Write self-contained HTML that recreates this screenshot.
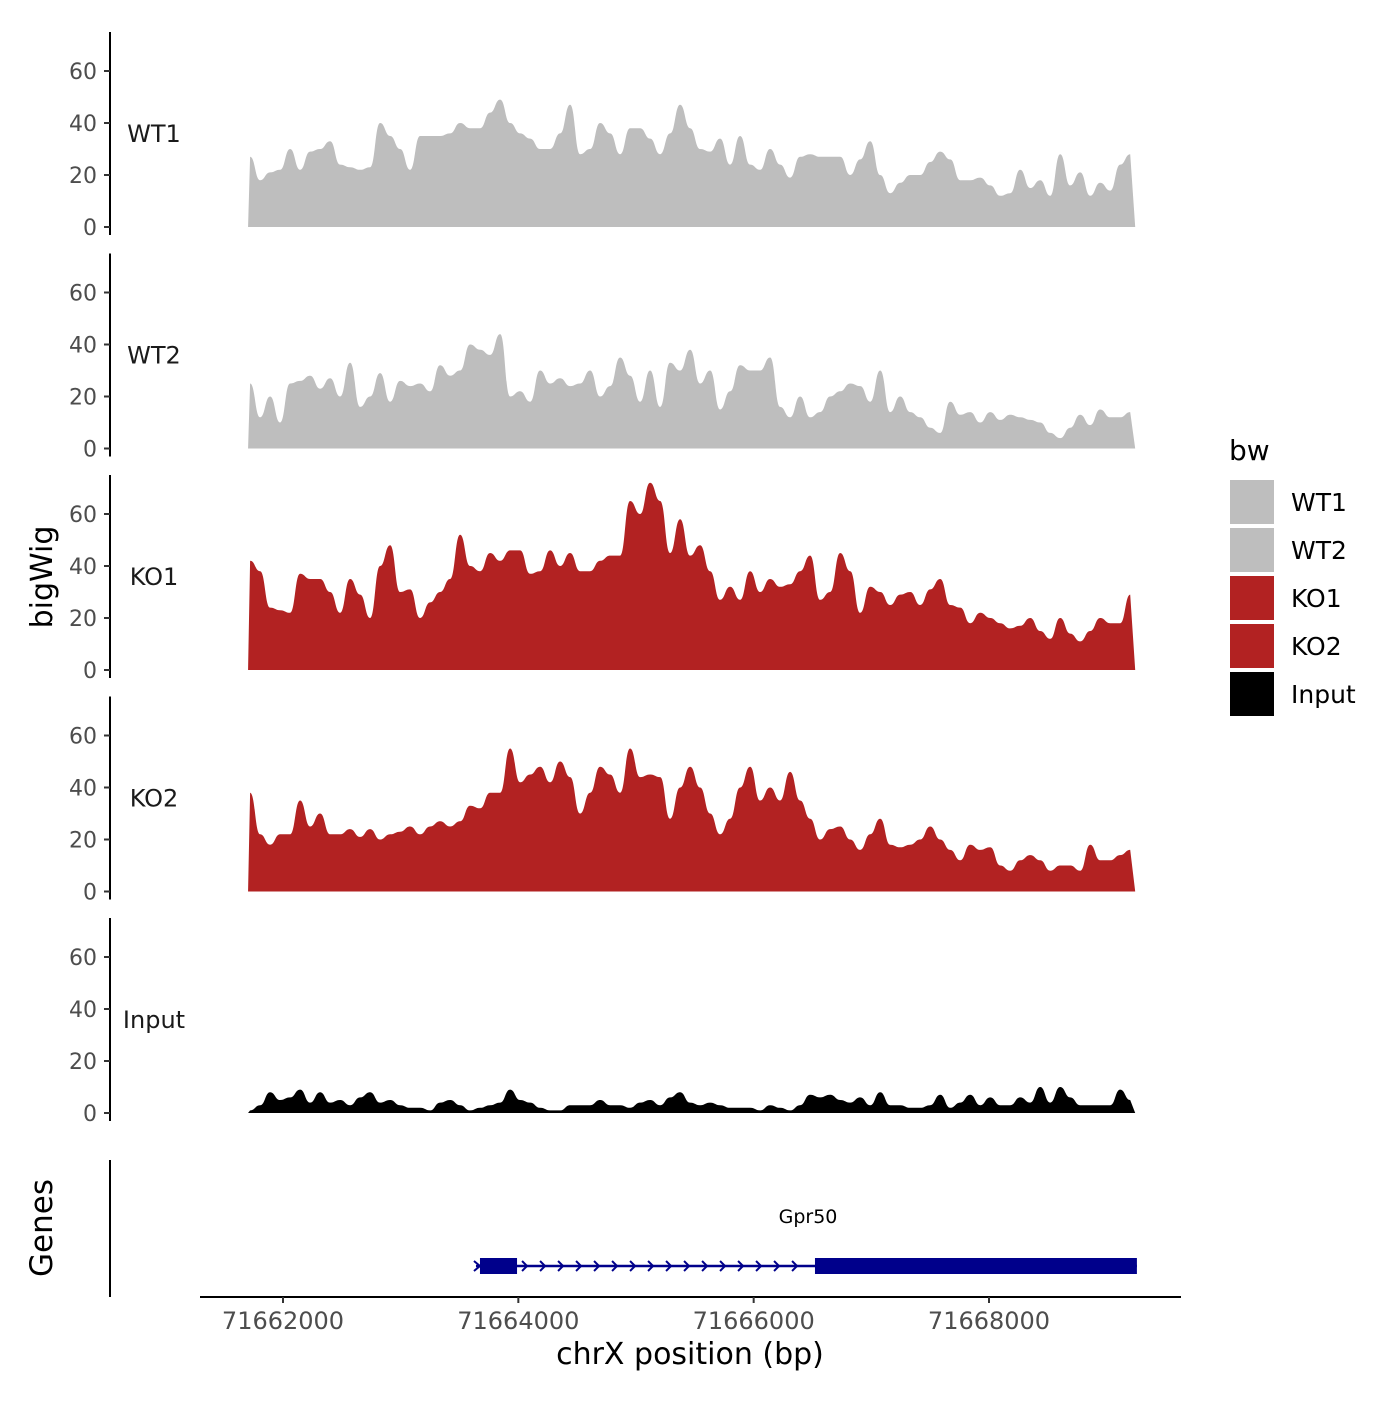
<!DOCTYPE html>
<html><head><meta charset="utf-8"><style>
body{margin:0;background:#fff}
svg text{font-family:"DejaVu Sans","Liberation Sans",sans-serif}
</style></head><body>
<svg id="chart" width="1400" height="1400" viewBox="0 0 1400 1400" xmlns="http://www.w3.org/2000/svg">
<rect width="1400" height="1400" fill="#fff"/>
<g id="tracks"></g>
<g id="genes"></g>
<g id="xaxis"></g>
<g id="legend"></g>
</svg>
<script>
const trackNames=["WT1","WT2","KO1","KO2","Input"];
const trackColors=["#bebebe","#bebebe","#b22222","#b22222","#000000"];
const binStartBp=71661720;
const binSizeBp=85;
const wt1=[27,18,21,22,30,22,29,30,33,24,23,22,23,40,35,30,22,35,35,35,36,40,38,38,44,49,40,36,34,30,30,36,47,28,30,40,36,28,38,38,34,28,36,47,38,30,29,34,24,35,24,22,30,24,19,27,28,27,27,27,20,26,33,20,13,17,20,20,25,29,26,18,18,19,16,12,13,22,15,18,12,28,16,21,12,17,14,24,28];
const wt2=[25,12,20,10,25,26,28,23,27,20,33,16,20,29,18,26,24,25,22,32,28,30,40,38,36,44,20,22,18,30,25,27,24,25,30,20,24,35,28,18,30,16,33,30,38,25,30,15,22,32,30,30,35,16,12,20,12,14,20,22,25,24,18,30,14,20,14,12,8,6,18,13,14,10,14,11,13,12,11,10,6,4,8,13,9,15,12,12,14];
const ko1=[42,38,24,23,22,37,35,35,30,22,35,29,20,40,48,30,31,20,26,30,35,52,40,38,45,42,46,46,37,38,46,40,45,38,38,42,44,44,65,60,72,65,45,58,44,48,38,27,32,27,38,30,35,32,33,38,44,27,30,45,38,22,32,30,25,29,30,25,31,35,25,24,18,22,20,18,16,17,20,15,12,20,14,11,15,20,18,18,29];
const ko2=[38,22,18,22,22,35,25,30,22,22,24,21,24,20,22,23,25,22,25,27,25,27,33,32,38,38,55,42,45,48,42,50,44,30,38,48,45,38,55,44,45,44,28,40,48,40,30,22,28,40,48,35,40,35,46,35,28,20,24,25,20,16,22,28,18,17,18,20,25,20,16,12,18,16,17,10,8,12,14,12,8,10,10,8,18,12,12,14,16];
const input=[1,3,8,5,6,9,4,8,4,5,3,6,8,4,5,3,2,2,1,4,5,3,1,2,3,4,9,5,4,2,1,1,3,3,3,5,3,3,2,4,5,3,6,8,4,3,4,3,2,2,2,1,3,2,1,3,7,6,7,5,4,6,3,8,3,3,2,2,3,7,2,4,7,3,6,3,3,6,4,10,4,10,6,3,3,3,3,9,5];
const trackValues=[wt1,wt2,ko1,ko2,input];
const yTicks=[0,20,40,60];
const xTicks=[71662000,71664000,71666000,71668000];
const geneName="Gpr50";
const geneStart=71663640, geneEnd=71669257;
const exonStarts=[71663674,71666521];
const exonEnds=[71663989,71669257];

const NS="http://www.w3.org/2000/svg";
function mk(tag,attrs,parent){const e=document.createElementNS(NS,tag);for(const k in attrs)e.setAttribute(k,attrs[k]);parent.appendChild(e);return e;}
const xScale=bp=>283+(bp-71662000)*(706/6000);
const panelZero=i=>227+i*221.5;
const yScale=(i,v)=>panelZero(i)-v*2.6;

const tracksG=document.getElementById('tracks');
trackNames.forEach((name,i)=>{
  const g=mk('g',{},tracksG);
  
  
  const z=panelZero(i);
  const ax=mk('line',{x1:110,x2:110,y1:z-195,y2:z+8,stroke:'#000','stroke-width':2},g);
  
  
  yTicks.forEach(t=>{
    const y=yScale(i,t);
    const tk=mk('line',{x1:104,x2:110,y1:y,y2:y,stroke:'#333','stroke-width':2},g);
    
    
    const tl=mk('text',{x:97,y:y+8,'text-anchor':'end','font-size':22,fill:'#4d4d4d'},g);
    tl.textContent=t;
    
    
  });
  const lab=mk('text',{x:154,y:z-85,'text-anchor':'middle','font-size':24,fill:'#1a1a1a'},g);
  lab.textContent=name;
  
  
  const vals=trackValues[i];
  const xs=vals.map((v,k)=>xScale(binStartBp+k*binSizeBp));
  const ys=vals.map(v=>yScale(i,v));
  let d='M'+(xs[0]-2)+','+z+' L'+xs[0].toFixed(1)+','+ys[0].toFixed(1);
  for(let k=0;k<xs.length-1;k++){
    const mx=(xs[k]+xs[k+1])/2;
    d+=` C${mx.toFixed(1)},${ys[k].toFixed(1)} ${mx.toFixed(1)},${ys[k+1].toFixed(1)} ${xs[k+1].toFixed(1)},${ys[k+1].toFixed(1)}`;
  }
  d+=' L'+(xs[xs.length-1]+5).toFixed(1)+','+z+' Z';
  const p=mk('path',{d:d,fill:trackColors[i]},g);
  
  
});
const yt=mk('text',{x:52,y:577,'text-anchor':'middle','font-size':30,fill:'#000',transform:'rotate(-90 52 577)'},tracksG);
yt.textContent='bigWig';



const gg=document.getElementById('genes');
const gax=mk('line',{x1:110,x2:110,y1:1160,y2:1297,stroke:'#000','stroke-width':2},gg);


const gt=mk('text',{x:52,y:1228,'text-anchor':'middle','font-size':31,fill:'#000',transform:'rotate(-90 52 1228)'},gg);
gt.textContent='Genes';


const gl=mk('line',{x1:xScale(geneStart),x2:xScale(geneEnd),y1:1266,y2:1266,stroke:'#00008b','stroke-width':2.5},gg);


for(let x=xScale(exonEnds[0])+8;x<xScale(exonStarts[1])-4;x+=18){
  const c=mk('path',{d:`M${x-3},${1261} L${x+2},${1266} L${x-3},${1271}`,fill:'none',stroke:'#00008b','stroke-width':2},gg);
  
  
}
const cx=xScale(geneStart);
const ca=mk('path',{d:`M${cx-2},1261 L${cx+4},1266 L${cx-2},1271`,fill:'none',stroke:'#00008b','stroke-width':2},gg);


exonStarts.forEach((s,k)=>{
  const r=mk('rect',{x:xScale(s),y:1258,width:xScale(exonEnds[k])-xScale(s),height:16,fill:'#00008b'},gg);
  
  
});
const gn=mk('text',{x:808,y:1223,'text-anchor':'middle','font-size':19,fill:'#000'},gg);
gn.textContent=geneName;



const xg=document.getElementById('xaxis');
const xl=mk('line',{x1:200,x2:1181,y1:1297,y2:1297,stroke:'#000','stroke-width':2},xg);


xTicks.forEach(t=>{
  const x=xScale(t);
  const tk=mk('line',{x1:x,x2:x,y1:1297,y2:1303,stroke:'#333','stroke-width':2},xg);
  
  
  const tl=mk('text',{x:x,y:1329,'text-anchor':'middle','font-size':24,fill:'#4d4d4d'},xg);
  tl.textContent=t;
  
  
});
const xt=mk('text',{x:690,y:1364,'text-anchor':'middle','font-size':30,fill:'#000'},xg);
xt.textContent='chrX position (bp)';



const lg=document.getElementById('legend');
const lt=mk('text',{x:1229,y:460,'font-size':28,fill:'#000'},lg);
lt.textContent='bw';


trackNames.forEach((n,k)=>{
  const y=480+k*48;
  const r=mk('rect',{x:1230,y:y,width:44,height:44,fill:trackColors[k]},lg);
  
  
  const t=mk('text',{x:1291,y:y+31,'font-size':25,fill:'#000'},lg);
  t.textContent=n;
  
  
});
</script>
</body></html>
